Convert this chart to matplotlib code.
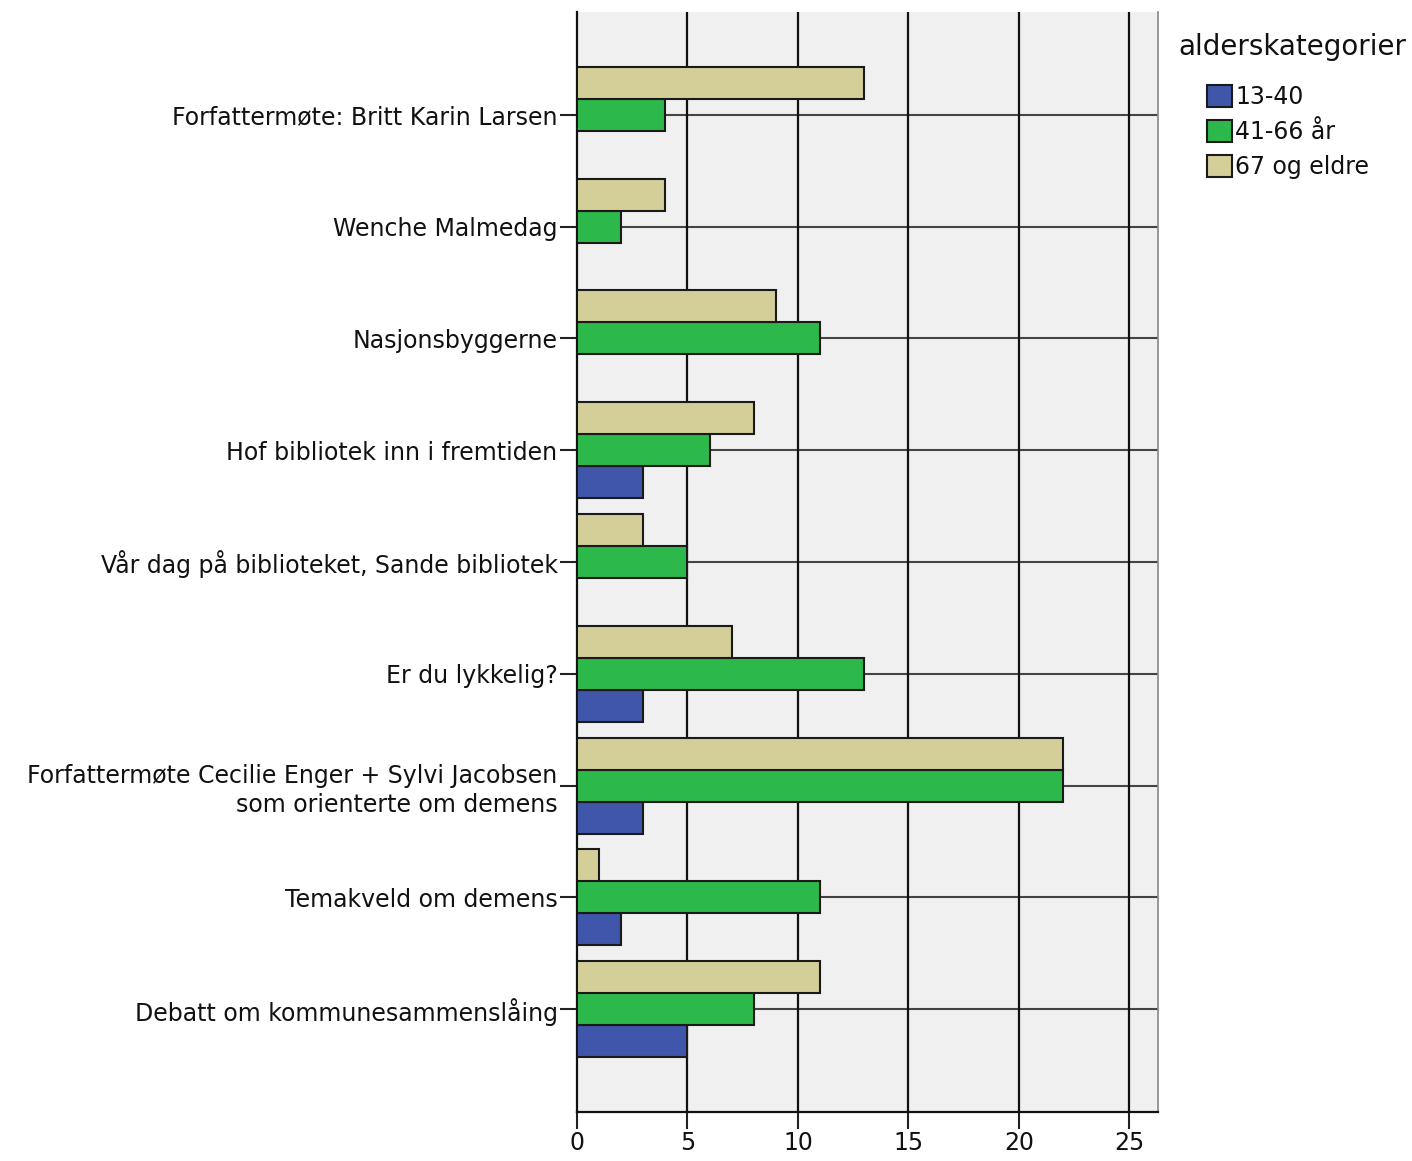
import matplotlib
matplotlib.use("Agg")
import matplotlib.pyplot as plt
import numpy as np
from matplotlib.patches import Patch

categories = [
    "Forfattermøte: Britt Karin Larsen",
    "Wenche Malmedag",
    "Nasjonsbyggerne",
    "Hof bibliotek inn i fremtiden",
    "Vår dag på biblioteket, Sande bibliotek",
    "Er du lykkelig?",
    "Forfattermøte Cecilie Enger + Sylvi Jacobsen\nsom orienterte om demens",
    "Temakveld om demens",
    "Debatt om kommunesammenslåing",
]
series_names = ["13-40", "41-66 år", "67 og eldre"]
v_13_40 = [0, 0, 0, 3, 0, 3, 3, 2, 5]
v_41_66 = [4, 2, 11, 6, 5, 13, 22, 11, 8]
v_67 = [13, 4, 9, 8, 3, 7, 22, 1, 11]
colors = ["#3F56AA", "#2DB84B", "#D4CF98"]
x_ticks = [0, 5, 10, 15, 20, 25]

plt.rcParams['font.family'] = ['DejaVu Sans']
fig = plt.figure(figsize=(14.12, 11.61), dpi=100)
ax = fig.add_axes([577/1412, 1-1112/1161, (1158-577)/1412, (1112-12)/1161])
ax.set_facecolor("#F0F0F0")

y = np.arange(len(categories))
bh = 0.286
for yi in y:
    ax.axhline(yi, color="#444444", lw=1.5, zorder=1)
for xt in x_ticks[1:]:
    ax.axvline(xt, color="#111111", lw=1.6, zorder=1)

offsets = [bh, 0, -bh]
for vals, off, c in zip([v_13_40, v_41_66, v_67], offsets, colors):
    vals = np.array(vals, dtype=float)
    mask = vals > 0
    ax.barh(y[mask] + off, vals[mask], height=bh, color=c, edgecolor="#1a1a1a",
            linewidth=1.5, zorder=3)

ax.set_ylim(8.92, -0.92)
ax.set_xlim(0, 26.3)
ax.set_yticks(y)
ax.set_yticklabels(categories, fontsize=17, linespacing=1.25, color="#111111")
ax.set_xticks(x_ticks)
ax.set_xticklabels([str(t) for t in x_ticks], fontsize=17, color="#111111")
ax.tick_params(axis='y', length=12, width=1.5, color="#222222", pad=2)
ax.tick_params(axis='x', length=12, width=1.5, color="#222222", pad=2)
for s in ["left", "bottom"]:
    ax.spines[s].set_color("#111111")
    ax.spines[s].set_linewidth(1.6)
ax.spines["top"].set_visible(False)
ax.spines["right"].set_color("#888888")
ax.spines["right"].set_linewidth(1.2)

fig.text(1178/1412, 1-47/1161, "alderskategorier", fontsize=20, color="#111111",
         ha="left", va="center")
handles = [Patch(facecolor=c, edgecolor="#1a1a1a", linewidth=1.5) for c in colors]
leg = fig.legend(handles, series_names, loc="upper left",
                 bbox_to_anchor=(1207/1412, 1-85/1161), frameon=False,
                 fontsize=17, handlelength=1.05, handleheight=1.05,
                 handletextpad=0.15, labelspacing=0.46, borderaxespad=0,
                 borderpad=0)
for t in leg.get_texts():
    t.set_color("#111111")
fig.savefig("out.png", dpi=100)
